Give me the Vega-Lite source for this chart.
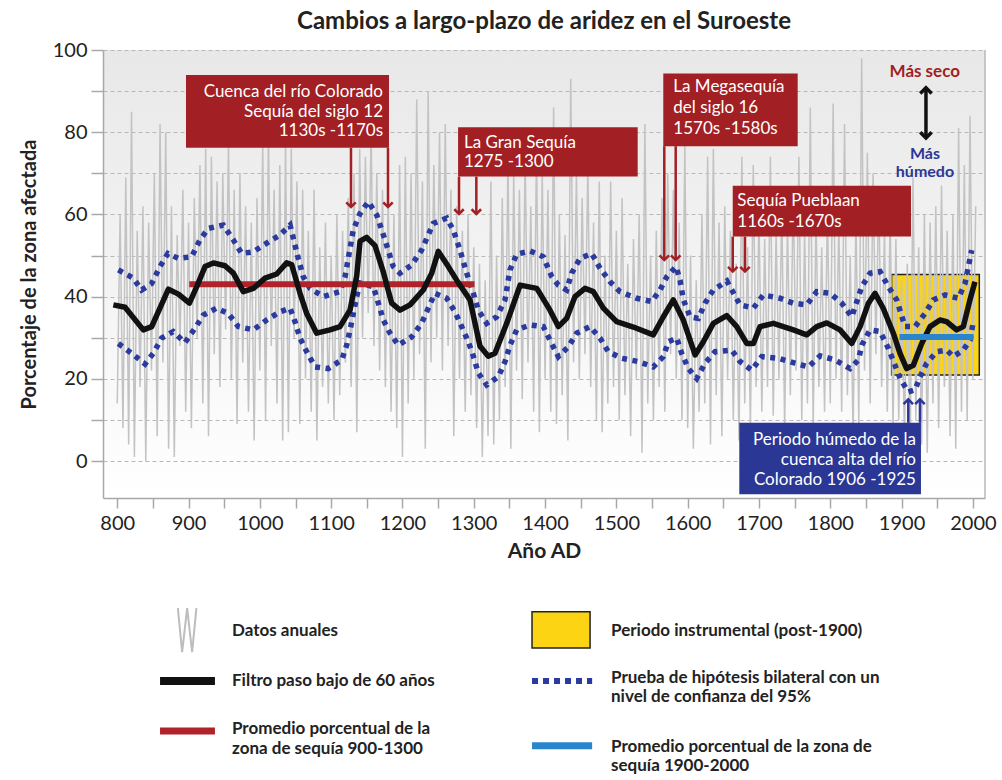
{
  "$schema": "https://vega.github.io/schema/vega-lite/v6.json",
  "width": 882,
  "height": 448,
  "autosize": {"type": "none"},
  "padding": {"left": 103, "top": 50, "right": 17, "bottom": 282},
  "background": "#ffffff",
  "title": {"text": "Cambios a largo-plazo de aridez en el Suroeste", "fontSize": 24, "font": "Lato", "fontWeight": "bold", "color": "#222222", "offset": 6, "anchor": "middle"},
  "config": {
    "font": "Lato",
    "view": {"stroke": null, "fill": {"gradient": "linear", "x1": 0, "y1": 0, "x2": 0, "y2": 1, "stops": [{"offset": 0, "color": "#e8e8e8"}, {"offset": 0.75, "color": "#f9f9f9"}, {"offset": 1, "color": "#ffffff"}]}},
    "axis": {"domainColor": "#a8a8a8", "domainWidth": 1.5, "tickColor": "#a8a8a8", "tickWidth": 1.5, "labelFont": "Lato", "labelFontSize": 20, "labelColor": "#222222", "titleFont": "Lato", "titleFontSize": 20, "titleFontWeight": "bold", "titleColor": "#222222"}
  },
  "encoding": {
    "x": {"field": "year", "type": "quantitative", "scale": {"domain": [780, 2017], "nice": false, "zero": false},
      "axis": {"values": [800, 850, 900, 950, 1000, 1050, 1100, 1150, 1200, 1250, 1300, 1350, 1400, 1450, 1500, 1550, 1600, 1650, 1700, 1750, 1800, 1850, 1900, 1950, 2000], "labelExpr": "datum.value % 100 === 0 ? datum.label : ''", "grid": false, "tickSize": 10, "labelPadding": 5, "title": "Año AD", "titleFontSize": 21, "titlePadding": 7, "format": "d"}},
    "y": {"field": "v", "type": "quantitative", "scale": {"domain": [-9, 100], "nice": false, "zero": false},
      "axis": {"values": [0, 10, 20, 30, 40, 50, 60, 70, 80, 90, 100], "labelExpr": "datum.value % 20 === 0 ? datum.label : ''", "grid": true, "gridColor": "#b8b8b8", "gridDash": [4, 3], "gridWidth": 1, "tickSize": 12, "labelPadding": 4, "title": "Porcentaje de la zona afectada", "titlePadding": 13}}
  },
  "datasets": {
    "yellow": [{"year": 1886, "year2": 2009, "v": 20.9, "v2": 45.4}],
    "gray": [
      {"year":800,"v":14},{"year":804,"v":60},{"year":808,"v":8},{"year":812,"v":69},{"year":816,"v":4},{"year":820,"v":85},{"year":824,"v":1},{"year":828,"v":56},{"year":832,"v":18},{"year":836,"v":62},{"year":840,"v":0},{"year":844,"v":58},{"year":848,"v":22},{"year":852,"v":70},{"year":856,"v":6},{"year":860,"v":82},{"year":864,"v":24},{"year":868,"v":80},{"year":872,"v":3},{"year":876,"v":62},{"year":880,"v":1},{"year":884,"v":55},{"year":888,"v":28},{"year":892,"v":66},{"year":896,"v":12},
      {"year":900,"v":58},{"year":904,"v":8},{"year":908,"v":64},{"year":912,"v":30},{"year":916,"v":72},{"year":920,"v":14},{"year":924,"v":76},{"year":928,"v":6},{"year":932,"v":74},{"year":936,"v":26},{"year":940,"v":68},{"year":944,"v":18},{"year":948,"v":70},{"year":952,"v":32},{"year":956,"v":77},{"year":960,"v":20},{"year":964,"v":66},{"year":968,"v":9},{"year":972,"v":70},{"year":976,"v":24},{"year":980,"v":62},{"year":984,"v":12},{"year":988,"v":58},{"year":992,"v":5},{"year":996,"v":64},
      {"year":1000,"v":22},{"year":1004,"v":77},{"year":1008,"v":10},{"year":1012,"v":79},{"year":1016,"v":28},{"year":1020,"v":66},{"year":1024,"v":14},{"year":1028,"v":72},{"year":1032,"v":5},{"year":1036,"v":78},{"year":1040,"v":7},{"year":1044,"v":76},{"year":1048,"v":30},{"year":1052,"v":68},{"year":1056,"v":9},{"year":1060,"v":66},{"year":1064,"v":20},{"year":1068,"v":56},{"year":1072,"v":12},{"year":1076,"v":66},{"year":1080,"v":5},{"year":1084,"v":52},{"year":1088,"v":18},{"year":1092,"v":58},{"year":1096,"v":14},
      {"year":1100,"v":50},{"year":1104,"v":10},{"year":1108,"v":60},{"year":1112,"v":16},{"year":1116,"v":56},{"year":1120,"v":24},{"year":1124,"v":64},{"year":1128,"v":18},{"year":1132,"v":70},{"year":1136,"v":7},{"year":1140,"v":76},{"year":1144,"v":30},{"year":1148,"v":74},{"year":1152,"v":36},{"year":1156,"v":80},{"year":1160,"v":28},{"year":1164,"v":70},{"year":1168,"v":22},{"year":1172,"v":66},{"year":1176,"v":18},{"year":1180,"v":65},{"year":1184,"v":12},{"year":1188,"v":60},{"year":1192,"v":8},{"year":1196,"v":72},
      {"year":1200,"v":1},{"year":1204,"v":74},{"year":1208,"v":14},{"year":1212,"v":70},{"year":1216,"v":20},{"year":1220,"v":88},{"year":1224,"v":26},{"year":1228,"v":68},{"year":1232,"v":3},{"year":1236,"v":90},{"year":1240,"v":24},{"year":1244,"v":72},{"year":1248,"v":30},{"year":1252,"v":80},{"year":1256,"v":22},{"year":1260,"v":82},{"year":1264,"v":28},{"year":1268,"v":66},{"year":1272,"v":6},{"year":1276,"v":62},{"year":1280,"v":20},{"year":1284,"v":56},{"year":1288,"v":12},{"year":1292,"v":60},{"year":1296,"v":16},
      {"year":1300,"v":52},{"year":1304,"v":8},{"year":1308,"v":48},{"year":1312,"v":1},{"year":1316,"v":44},{"year":1320,"v":6},{"year":1324,"v":68},{"year":1328,"v":4},{"year":1332,"v":50},{"year":1336,"v":10},{"year":1340,"v":64},{"year":1344,"v":18},{"year":1348,"v":74},{"year":1352,"v":3},{"year":1356,"v":70},{"year":1360,"v":22},{"year":1364,"v":66},{"year":1368,"v":15},{"year":1372,"v":74},{"year":1376,"v":24},{"year":1380,"v":62},{"year":1384,"v":12},{"year":1388,"v":77},{"year":1392,"v":7},{"year":1396,"v":70},
      {"year":1400,"v":20},{"year":1404,"v":66},{"year":1408,"v":12},{"year":1412,"v":86},{"year":1416,"v":9},{"year":1420,"v":60},{"year":1424,"v":16},{"year":1428,"v":55},{"year":1432,"v":5},{"year":1436,"v":93},{"year":1440,"v":24},{"year":1444,"v":70},{"year":1448,"v":20},{"year":1452,"v":64},{"year":1456,"v":26},{"year":1460,"v":72},{"year":1464,"v":18},{"year":1468,"v":58},{"year":1472,"v":10},{"year":1476,"v":68},{"year":1480,"v":7},{"year":1484,"v":50},{"year":1488,"v":14},{"year":1492,"v":68},{"year":1496,"v":18},
      {"year":1500,"v":56},{"year":1504,"v":10},{"year":1508,"v":64},{"year":1512,"v":16},{"year":1516,"v":48},{"year":1520,"v":6},{"year":1524,"v":54},{"year":1528,"v":20},{"year":1532,"v":60},{"year":1536,"v":2},{"year":1540,"v":82},{"year":1544,"v":14},{"year":1548,"v":50},{"year":1552,"v":10},{"year":1556,"v":56},{"year":1560,"v":18},{"year":1564,"v":64},{"year":1568,"v":12},{"year":1572,"v":70},{"year":1576,"v":26},{"year":1580,"v":66},{"year":1584,"v":20},{"year":1588,"v":58},{"year":1592,"v":10},{"year":1596,"v":77},
      {"year":1600,"v":8},{"year":1604,"v":50},{"year":1608,"v":3},{"year":1612,"v":44},{"year":1616,"v":12},{"year":1620,"v":60},{"year":1624,"v":14},{"year":1628,"v":74},{"year":1632,"v":4},{"year":1636,"v":76},{"year":1640,"v":16},{"year":1644,"v":58},{"year":1648,"v":6},{"year":1652,"v":62},{"year":1656,"v":20},{"year":1660,"v":56},{"year":1664,"v":10},{"year":1668,"v":48},{"year":1672,"v":5},{"year":1676,"v":74},{"year":1680,"v":14},{"year":1684,"v":52},{"year":1688,"v":8},{"year":1692,"v":72},{"year":1696,"v":18},
      {"year":1700,"v":60},{"year":1704,"v":12},{"year":1708,"v":54},{"year":1712,"v":18},{"year":1716,"v":74},{"year":1720,"v":11},{"year":1724,"v":56},{"year":1728,"v":20},{"year":1732,"v":62},{"year":1736,"v":8},{"year":1740,"v":58},{"year":1744,"v":16},{"year":1748,"v":66},{"year":1752,"v":22},{"year":1756,"v":74},{"year":1760,"v":10},{"year":1764,"v":56},{"year":1768,"v":14},{"year":1772,"v":86},{"year":1776,"v":8},{"year":1780,"v":60},{"year":1784,"v":18},{"year":1788,"v":52},{"year":1792,"v":12},{"year":1796,"v":62},
      {"year":1800,"v":14},{"year":1804,"v":87},{"year":1808,"v":20},{"year":1812,"v":58},{"year":1816,"v":12},{"year":1820,"v":82},{"year":1824,"v":16},{"year":1828,"v":50},{"year":1832,"v":6},{"year":1836,"v":60},{"year":1840,"v":9},{"year":1844,"v":98},{"year":1848,"v":22},{"year":1852,"v":75},{"year":1856,"v":14},{"year":1860,"v":70},{"year":1864,"v":26},{"year":1868,"v":66},{"year":1872,"v":18},{"year":1876,"v":56},{"year":1880,"v":12},{"year":1884,"v":60},{"year":1888,"v":8},{"year":1892,"v":54},{"year":1896,"v":10},
      {"year":1900,"v":44},{"year":1904,"v":6},{"year":1908,"v":48},{"year":1912,"v":3},{"year":1916,"v":69},{"year":1920,"v":10},{"year":1924,"v":52},{"year":1928,"v":4},{"year":1932,"v":60},{"year":1936,"v":2},{"year":1940,"v":58},{"year":1944,"v":14},{"year":1948,"v":62},{"year":1952,"v":8},{"year":1956,"v":67},{"year":1960,"v":18},{"year":1964,"v":56},{"year":1968,"v":6},{"year":1972,"v":60},{"year":1976,"v":3},{"year":1980,"v":81},{"year":1984,"v":12},{"year":1988,"v":72},{"year":1992,"v":10},{"year":1996,"v":84},{"year":2000,"v":20},{"year":2004,"v":62}
    ],
    "upper": [
      {"year":801.5,"v":46.5},{"year":822.5,"v":44.5},{"year":834.1,"v":41.6},{"year":848.3,"v":43.2},{"year":859.9,"v":47.3},{"year":871,"v":50.5},{"year":885.6,"v":49.3},{"year":904.3,"v":49.7},{"year":916,"v":53.8},{"year":927.7,"v":56.6},{"year":948.7,"v":57.4},{"year":962.8,"v":53.8},{"year":974.5,"v":50.5},{"year":990.8,"v":50.9},{"year":1009.6,"v":53.0},{"year":1028.2,"v":55.0},{"year":1042.3,"v":57.4},{"year":1053.9,"v":49.3},{"year":1061,"v":44.8},{"year":1070.3,"v":42.0},{"year":1089,"v":40.0},{"year":1112.4,"v":41.2},{"year":1119.4,"v":44.8},{"year":1131,"v":56.2},{"year":1140.4,"v":60.2},{"year":1152.1,"v":63.1},{"year":1163.8,"v":59.9},{"year":1175.5,"v":53.8},{"year":1187.1,"v":47.3},{"year":1196.5,"v":45.7},{"year":1212.8,"v":47.7},{"year":1226.8,"v":51.3},{"year":1243.2,"v":57.8},{"year":1262,"v":59.1},{"year":1271.3,"v":56.2},{"year":1280.7,"v":51.3},{"year":1290.1,"v":45.7},{"year":1299.4,"v":40.8},{"year":1306.4,"v":36.7},{"year":1318.1,"v":33.5},{"year":1332.2,"v":35.1},{"year":1343.8,"v":39.2},{"year":1350.8,"v":46.5},{"year":1360.2,"v":50.3},{"year":1378.9,"v":51.1},{"year":1397.5,"v":49.7},{"year":1409,"v":45.0},{"year":1418.6,"v":42.8},{"year":1430.3,"v":41.6},{"year":1437.3,"v":45.7},{"year":1449,"v":49.3},{"year":1465.4,"v":50.5},{"year":1477.1,"v":46.9},{"year":1491.1,"v":43.6},{"year":1505.1,"v":41.2},{"year":1528.5,"v":39.6},{"year":1549.6,"v":38.8},{"year":1561.2,"v":41.6},{"year":1570.6,"v":44.8},{"year":1583.7,"v":47.3},{"year":1589.3,"v":44.0},{"year":1594,"v":39.2},{"year":1603.3,"v":35.1},{"year":1615,"v":34.7},{"year":1624.3,"v":38.4},{"year":1636,"v":41.6},{"year":1655,"v":43.8},{"year":1673.4,"v":38.0},{"year":1692.1,"v":37.2},{"year":1706.1,"v":40.4},{"year":1729.5,"v":39.6},{"year":1748.2,"v":38.4},{"year":1767,"v":38.0},{"year":1781,"v":41.2},{"year":1799.7,"v":40.8},{"year":1816.1,"v":38.4},{"year":1830.1,"v":35.1},{"year":1844.2,"v":42.4},{"year":1855.8,"v":45.7},{"year":1869.8,"v":46.1},{"year":1881.5,"v":42.4},{"year":1893.2,"v":39.2},{"year":1904.8,"v":32.7},{"year":1918.9,"v":32.7},{"year":1932.9,"v":35.9},{"year":1944.5,"v":39.2},{"year":1961,"v":40.4},{"year":1979.6,"v":39.6},{"year":1989,"v":43.2},{"year":1998.3,"v":51.3}
    ],
    "lower": [
      {"year":801.5,"v":28.6},{"year":820.2,"v":26.2},{"year":838.9,"v":23.6},{"year":850.5,"v":26.2},{"year":862.3,"v":29.9},{"year":878.5,"v":31.5},{"year":894.9,"v":28.8},{"year":909,"v":32.3},{"year":920.7,"v":35.5},{"year":939.4,"v":37.2},{"year":955.7,"v":35.9},{"year":969.8,"v":32.7},{"year":990.8,"v":31.9},{"year":1009.5,"v":34.3},{"year":1028.2,"v":36.3},{"year":1042.3,"v":37.2},{"year":1049.3,"v":33.9},{"year":1056.3,"v":29.9},{"year":1065.7,"v":26.6},{"year":1077.3,"v":22.9},{"year":1096,"v":22.5},{"year":1114.8,"v":24.6},{"year":1121.8,"v":28.2},{"year":1126.5,"v":31.9},{"year":1135.8,"v":40.0},{"year":1140.5,"v":43.3},{"year":1159.2,"v":42.4},{"year":1166.2,"v":38.4},{"year":1173.2,"v":34.3},{"year":1182.5,"v":31.1},{"year":1194.2,"v":28.2},{"year":1212.9,"v":30.2},{"year":1226.8,"v":33.5},{"year":1236.2,"v":37.2},{"year":1245.6,"v":40.8},{"year":1262,"v":39.6},{"year":1273.7,"v":36.3},{"year":1283,"v":32.7},{"year":1292.4,"v":29.0},{"year":1299.4,"v":25.5},{"year":1306.4,"v":21.4},{"year":1318.1,"v":18.5},{"year":1334.5,"v":20.5},{"year":1343.8,"v":24.2},{"year":1350.9,"v":28.2},{"year":1360.2,"v":31.9},{"year":1378.9,"v":33.1},{"year":1397.5,"v":32.7},{"year":1406.9,"v":29.4},{"year":1418.6,"v":25.4},{"year":1432.7,"v":27.8},{"year":1444.3,"v":31.1},{"year":1463,"v":32.7},{"year":1477.1,"v":29.9},{"year":1488.7,"v":26.6},{"year":1507.4,"v":25.0},{"year":1530.8,"v":24.2},{"year":1551.8,"v":22.9},{"year":1565.9,"v":25.4},{"year":1572.9,"v":29.0},{"year":1584.6,"v":29.9},{"year":1591.6,"v":26.2},{"year":1601,"v":22.5},{"year":1612.7,"v":20.1},{"year":1624.4,"v":23.8},{"year":1638.4,"v":26.6},{"year":1661.8,"v":27.0},{"year":1673.5,"v":24.2},{"year":1689.9,"v":22.1},{"year":1703.9,"v":25.4},{"year":1727.2,"v":25.0},{"year":1750.6,"v":23.8},{"year":1769.3,"v":22.9},{"year":1785.8,"v":25.6},{"year":1806.8,"v":24.6},{"year":1827.8,"v":22.5},{"year":1839.5,"v":24.6},{"year":1844.2,"v":28.2},{"year":1855.8,"v":31.9},{"year":1869.8,"v":31.5},{"year":1881.5,"v":27.4},{"year":1890.8,"v":23.3},{"year":1897.9,"v":20.1},{"year":1909.5,"v":16.8},{"year":1918.9,"v":17.3},{"year":1925.9,"v":20.5},{"year":1935.2,"v":23.8},{"year":1949.3,"v":26.6},{"year":1963.3,"v":27.0},{"year":1972.6,"v":25.4},{"year":1986.6,"v":27.0},{"year":1996,"v":29.4},{"year":2000.6,"v":33.9}
    ],
    "smooth": [
      {"year":794.5,"v":38.0},{"year":810.9,"v":37.4},{"year":836.5,"v":31.9},{"year":848.3,"v":32.7},{"year":871.7,"v":41.8},{"year":885.8,"v":40.6},{"year":901.2,"v":38.4},{"year":911.4,"v":42.4},{"year":923.1,"v":47.3},{"year":934.8,"v":48.2},{"year":951.1,"v":47.5},{"year":962.8,"v":45.7},{"year":976.8,"v":41.2},{"year":990.9,"v":42.0},{"year":1007.3,"v":44.5},{"year":1023.6,"v":45.5},{"year":1037.6,"v":48.2},{"year":1044.6,"v":47.8},{"year":1056.3,"v":40.8},{"year":1065.6,"v":35.9},{"year":1079.7,"v":31.1},{"year":1098.3,"v":31.9},{"year":1112.4,"v":32.7},{"year":1126.4,"v":36.7},{"year":1135.8,"v":45.0},{"year":1140.5,"v":53.5},{"year":1149.8,"v":54.4},{"year":1161.5,"v":52.4},{"year":1173.1,"v":46.0},{"year":1184.9,"v":38.4},{"year":1196.6,"v":36.7},{"year":1210.6,"v":38.0},{"year":1229.2,"v":41.6},{"year":1241,"v":45.7},{"year":1250.3,"v":51.0},{"year":1264.3,"v":47.3},{"year":1276,"v":44.0},{"year":1294.7,"v":39.2},{"year":1308.8,"v":27.9},{"year":1320.4,"v":25.5},{"year":1329.8,"v":26.2},{"year":1346.2,"v":33.5},{"year":1365,"v":42.8},{"year":1388.4,"v":42.0},{"year":1406.9,"v":36.7},{"year":1418.6,"v":32.7},{"year":1430.3,"v":34.7},{"year":1442,"v":40.0},{"year":1456,"v":42.0},{"year":1467.7,"v":41.2},{"year":1481.7,"v":37.2},{"year":1500.4,"v":33.9},{"year":1523.8,"v":32.6},{"year":1551.8,"v":30.7},{"year":1565.9,"v":35.1},{"year":1579.9,"v":39.2},{"year":1593.9,"v":34.3},{"year":1610.4,"v":25.8},{"year":1622,"v":29.0},{"year":1636,"v":33.5},{"year":1654.8,"v":35.4},{"year":1668.8,"v":32.7},{"year":1682.8,"v":28.6},{"year":1692.2,"v":28.6},{"year":1701.5,"v":32.7},{"year":1720.2,"v":33.5},{"year":1748.2,"v":31.9},{"year":1767,"v":30.7},{"year":1781,"v":32.7},{"year":1795.1,"v":33.6},{"year":1813.7,"v":31.9},{"year":1830.1,"v":28.6},{"year":1841.8,"v":32.7},{"year":1853.5,"v":38.4},{"year":1862.8,"v":40.8},{"year":1874.4,"v":37.1},{"year":1888.4,"v":31.1},{"year":1897.8,"v":26.2},{"year":1907.1,"v":22.5},{"year":1916.5,"v":23.3},{"year":1928.2,"v":28.6},{"year":1939.9,"v":32.7},{"year":1953.9,"v":34.3},{"year":1963.2,"v":33.9},{"year":1977.2,"v":31.9},{"year":1986.6,"v":32.7},{"year":1995.9,"v":39.2},{"year":2002.9,"v":43.6}
    ],
    "redmean": [{"year": 901, "v": 43.0}, {"year": 1301, "v": 43.0}],
    "bluemean": [{"year": 1897, "v": 30.2}, {"year": 2001, "v": 30.2}],
    "redboxes": [
      {"year": 896.4, "year2": 1181.1, "v": 76.2, "v2": 93.9},
      {"year": 1278.0, "year2": 1529.9, "v": 69.2, "v2": 81.2},
      {"year": 1565.8, "year2": 1754.3, "v": 76.6, "v2": 94.3},
      {"year": 1663.2, "year2": 1913.2, "v": 54.6, "v2": 67.0}
    ],
    "bluebox": [{"year": 1672.4, "year2": 1927.2, "v": -8.1, "v2": 9.3}],
    "textright": [
      {"year": 1172.7, "v": 89.7, "t": "Cuenca del río Colorado"},
      {"year": 1172.7, "v": 85.0, "t": "Sequía del siglo 12"},
      {"year": 1172.7, "v": 80.2, "t": "1130s -1170s"},
      {"year": 1920.2, "v": 5.0, "t": "Periodo húmedo de la"},
      {"year": 1920.2, "v": 0.2, "t": "cuenca alta del río"},
      {"year": 1920.2, "v": -4.6, "t": "Colorado 1906 -1925"}
    ],
    "textleft": [
      {"year": 1286.3, "v": 77.4, "t": "La Gran Sequía"},
      {"year": 1286.3, "v": 72.8, "t": "1275 -1300"},
      {"year": 1579.9, "v": 91.1, "t": "La Megasequía"},
      {"year": 1579.9, "v": 86.0, "t": "del siglo 16"},
      {"year": 1579.9, "v": 80.9, "t": "1570s -1580s"},
      {"year": 1669.6, "v": 63.2, "t": "Sequía Pueblaan"},
      {"year": 1669.6, "v": 58.2, "t": "1160s -1670s"}
    ],
    "redarrows": [
      {"year": 1127.8, "v": 61.8, "v2": 76.2},
      {"year": 1179.7, "v": 61.8, "v2": 76.2},
      {"year": 1279.3, "v": 60.1, "v2": 69.2},
      {"year": 1303.6, "v": 60.1, "v2": 69.2},
      {"year": 1567.2, "v": 48.9, "v2": 76.6},
      {"year": 1583.2, "v": 48.9, "v2": 76.6},
      {"year": 1663.2, "v": 46.1, "v2": 54.6},
      {"year": 1680.4, "v": 46.1, "v2": 54.6}
    ],
    "bluearrows": [
      {"year": 1909.4, "v": 15.0, "v2": 9.3},
      {"year": 1925.8, "v": 15.0, "v2": 9.3}
    ],
    "dblarrow": [{"year": 1934.2, "v": 78.6, "v2": 90.8}],
    "dbltop": [{"year": 1934.2, "v": 90.8}],
    "dblbottom": [{"year": 1934.2, "v": 78.6}],
    "seco": [{"year": 1932.5, "v": 94.6, "t": "Más seco"}],
    "humedo": [{"year": 1932.8, "v": 74.7, "t": "Más"}, {"year": 1932.8, "v": 70.2, "t": "húmedo"}],
    "leg_zig": [{"year": 885, "v": -35.8}, {"year": 891, "v": -46.5}, {"year": 898, "v": -35.8}, {"year": 905, "v": -46.5}, {"year": 911, "v": -35.8}],
    "leg_black": [{"year": 860, "v": -53.5}, {"year": 937, "v": -53.5}],
    "leg_red": [{"year": 860, "v": -65.7}, {"year": 937, "v": -65.7}],
    "leg_dots": [{"year": 1381.7, "v": -53.5}, {"year": 1466, "v": -53.5}],
    "leg_lblue": [{"year": 1381.7, "v": -69.3}, {"year": 1466, "v": -69.3}],
    "leg_yellow": [{"year": 1381.7, "year2": 1463.1, "v": -45.5, "v2": -36.7}],
    "leg_text": [
      {"year": 960.9, "v": -41.4, "t": "Datos anuales"},
      {"year": 960.9, "v": -53.5, "t": "Filtro paso bajo de 60 años"},
      {"year": 960.9, "v": -65.3, "t": "Promedio porcentual de la"},
      {"year": 960.9, "v": -70.1, "t": "zona de sequía 900-1300"},
      {"year": 1492.5, "v": -41.4, "t": "Periodo instrumental (post-1900)"},
      {"year": 1492.5, "v": -52.7, "t": "Prueba de hipótesis bilateral con un"},
      {"year": 1492.5, "v": -57.5, "t": "nivel de confianza del 95%"},
      {"year": 1492.5, "v": -69.5, "t": "Promedio porcentual de la zona de"},
      {"year": 1492.5, "v": -74.3, "t": "sequía 1900-2000"}
    ],
    "border": [{"year": 2017, "v": -9, "v2": 100}]
  },
  "layer": [
    {"data": {"name": "yellow"}, "mark": {"type": "rect", "fill": "#fcd414", "stroke": "#222222", "strokeWidth": 1.5}, "encoding": {"x2": {"field": "year2"}, "y2": {"field": "v2"}}},
    {"data": {"name": "gray"}, "mark": {"type": "line", "color": "#c3c3c3", "strokeWidth": 1.5}, "encoding": {}},
    {"data": {"name": "upper"}, "mark": {"type": "line", "color": "#2b3a9e", "strokeWidth": 5.5, "strokeDash": [5, 5.5]}, "encoding": {}},
    {"data": {"name": "lower"}, "mark": {"type": "line", "color": "#2b3a9e", "strokeWidth": 5.5, "strokeDash": [5, 5.5]}, "encoding": {}},
    {"data": {"name": "redmean"}, "mark": {"type": "line", "color": "#b0232a", "strokeWidth": 6}, "encoding": {}},
    {"data": {"name": "smooth"}, "mark": {"type": "line", "color": "#111111", "strokeWidth": 5.5, "strokeJoin": "round"}, "encoding": {}},
    {"data": {"name": "bluemean"}, "mark": {"type": "line", "color": "#2a86cc", "strokeWidth": 6}, "encoding": {}},
    {"data": {"name": "border"}, "mark": {"type": "rule", "color": "#b8b8b8", "strokeWidth": 1.5}, "encoding": {"y2": {"field": "v2"}}},
    {"data": {"name": "redboxes"}, "mark": {"type": "rect", "fill": "#a21f24"}, "encoding": {"x2": {"field": "year2"}, "y2": {"field": "v2"}}},
    {"data": {"name": "bluebox"}, "mark": {"type": "rect", "fill": "#2b3795"}, "encoding": {"x2": {"field": "year2"}, "y2": {"field": "v2"}}},
    {"data": {"name": "textright"}, "mark": {"type": "text", "align": "right", "baseline": "middle", "color": "#ffffff", "fontSize": 17, "font": "Lato"}, "encoding": {"text": {"field": "t"}}},
    {"data": {"name": "textleft"}, "mark": {"type": "text", "align": "left", "baseline": "middle", "color": "#ffffff", "fontSize": 17, "font": "Lato"}, "encoding": {"text": {"field": "t"}}},
    {"data": {"name": "redarrows"}, "mark": {"type": "rule", "color": "#a21f24", "strokeWidth": 2.5}, "encoding": {"y2": {"field": "v2"}}},
    {"data": {"name": "redarrows"}, "mark": {"type": "point", "shape": "M-1,-1L0,0L1,-1", "filled": false, "color": "#a21f24", "strokeWidth": 2.5, "size": 90, "opacity": 1}, "encoding": {}},
    {"data": {"name": "bluearrows"}, "mark": {"type": "rule", "color": "#2b3795", "strokeWidth": 2.5}, "encoding": {"y2": {"field": "v2"}}},
    {"data": {"name": "bluearrows"}, "mark": {"type": "point", "shape": "M-1,1L0,0L1,1", "filled": false, "color": "#2b3795", "strokeWidth": 2.5, "size": 90, "opacity": 1}, "encoding": {}},
    {"data": {"name": "dblarrow"}, "mark": {"type": "rule", "color": "#111111", "strokeWidth": 3.5}, "encoding": {"y2": {"field": "v2"}}},
    {"data": {"name": "dbltop"}, "mark": {"type": "point", "shape": "M-1,1L0,0L1,1", "filled": false, "color": "#111111", "strokeWidth": 3.5, "size": 130, "opacity": 1}, "encoding": {}},
    {"data": {"name": "dblbottom"}, "mark": {"type": "point", "shape": "M-1,-1L0,0L1,-1", "filled": false, "color": "#111111", "strokeWidth": 3.5, "size": 130, "opacity": 1}, "encoding": {}},
    {"data": {"name": "seco"}, "mark": {"type": "text", "align": "center", "baseline": "middle", "color": "#a21f24", "fontSize": 17, "fontWeight": "bold", "font": "Lato"}, "encoding": {"text": {"field": "t"}}},
    {"data": {"name": "humedo"}, "mark": {"type": "text", "align": "center", "baseline": "middle", "color": "#2b3795", "fontSize": 16, "fontWeight": "bold", "font": "Lato"}, "encoding": {"text": {"field": "t"}}},
    {"data": {"name": "leg_zig"}, "mark": {"type": "line", "color": "#bdbdbd", "strokeWidth": 2}, "encoding": {}},
    {"data": {"name": "leg_black"}, "mark": {"type": "line", "color": "#111111", "strokeWidth": 8}, "encoding": {}},
    {"data": {"name": "leg_red"}, "mark": {"type": "line", "color": "#b0232a", "strokeWidth": 7}, "encoding": {}},
    {"data": {"name": "leg_dots"}, "mark": {"type": "line", "color": "#2b3a9e", "strokeWidth": 6, "strokeDash": [6, 5]}, "encoding": {}},
    {"data": {"name": "leg_lblue"}, "mark": {"type": "line", "color": "#2a86cc", "strokeWidth": 7}, "encoding": {}},
    {"data": {"name": "leg_yellow"}, "mark": {"type": "rect", "fill": "#fcd414", "stroke": "#222222", "strokeWidth": 1.5}, "encoding": {"x2": {"field": "year2"}, "y2": {"field": "v2"}}},
    {"data": {"name": "leg_text"}, "mark": {"type": "text", "align": "left", "baseline": "middle", "color": "#222222", "fontSize": 17, "fontWeight": "bold", "font": "Lato"}, "encoding": {"text": {"field": "t"}}}
  ]
}
